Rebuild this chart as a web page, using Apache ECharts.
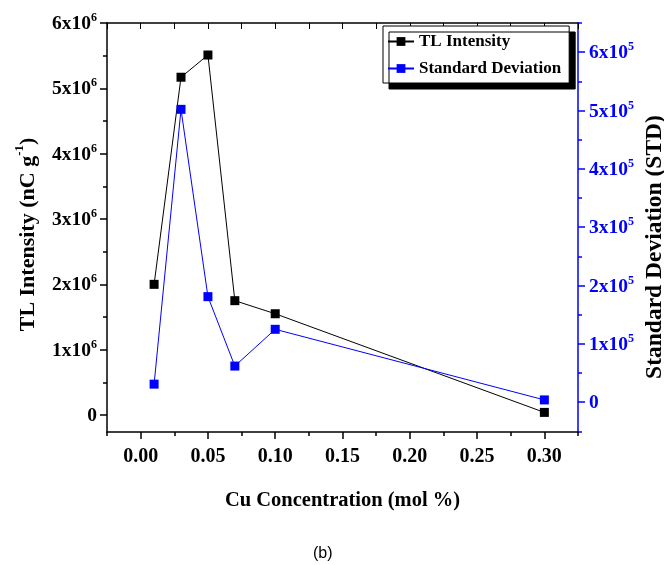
<!DOCTYPE html>
<html>
<head>
<meta charset="utf-8">
<script src="https://cdn.jsdelivr.net/npm/echarts@6/dist/echarts.min.js"></script>
<style>
  html, body { margin: 0; padding: 0; background: #fff; }
  #chart { width: 664px; height: 565px; }
</style>
</head>
<body>
<div id="chart"></div>
<script>
// Cu concentration (mol %)
const concentration = [0.01, 0.03, 0.05, 0.07, 0.10, 0.30]
// TL intensity, left axis
const tlIntensity = [2.0e6, 5.17e6, 5.51e6, 1.75e6, 1.55e6, 0.04e6]
// standard deviation, right axis
const stdDeviation = [0.31e5, 5.02e5, 1.81e5, 0.62e5, 1.25e5, 0.04e5]

// tick positions
const xTicks = [0, 0.05, 0.10, 0.15, 0.20, 0.25, 0.30]
const xMinorTicks = [-0.025, 0.025, 0.075, 0.125, 0.175, 0.225, 0.275, 0.325]
const leftTicks = [0, 1e6, 2e6, 3e6, 4e6, 5e6, 6e6]
const leftMinorTicks = [0.5e6, 1.5e6, 2.5e6, 3.5e6, 4.5e6, 5.5e6]
const rightTicks = [0, 1e5, 2e5, 3e5, 4e5, 5e5, 6e5]
const rightMinorTicks = [-0.5e5, 0.5e5, 1.5e5, 2.5e5, 3.5e5, 4.5e5, 5.5e5, 6.5e5]

const xMin = -0.025, xMax = 0.325
const leftMin = -260000, leftMax = 6000000
const rightMin = -51000, rightMax = 650000

const serif = 'Liberation Serif'
const blue = '#0000ff'

function sciLabel(v, exp) {
  if (Math.abs(v) < 1e-9) return '{b|0}'
  const m = Math.round(v / Math.pow(10, exp))
  return '{b|' + m + 'x10}{s|' + exp + '}'
}
function richFor(color) {
  return {
    b: { fontFamily: serif, fontWeight: 'bold', fontSize: 19.5, color: color, lineHeight: 22, verticalAlign: 'bottom' },
    s: { fontFamily: serif, fontWeight: 'bold', fontSize: 12, color: color, lineHeight: 22, verticalAlign: 'top', padding: [0, 0, 10, 0] }
  }
}

const chart = echarts.init(document.getElementById('chart'))

const option = {
  backgroundColor: '#fff',
  animation: false,
  grid: { left: 107, right: 86, top: 23, bottom: 133, containLabel: false, outerBoundsMode: 'none' },
  legend: {
    orient: 'vertical',
    left: 383,
    top: 26,
    padding: [7, 8, 6, 4],
    itemGap: 10,
    itemWidth: 26,
    itemHeight: 11,
    backgroundColor: '#fff',
    borderColor: '#000',
    borderWidth: 1,
    borderRadius: 0,
    shadowColor: '#000',
    shadowBlur: 0,
    shadowOffsetX: 6,
    shadowOffsetY: 6,
    textStyle: { fontFamily: serif, fontWeight: 'bold', fontSize: 17, color: '#000' },
    data: ['TL Intensity', 'Standard Deviation']
  },
  xAxis: [
    {
      type: 'value',
      position: 'bottom',
      min: xMin,
      max: xMax,
      name: 'Cu Concentration (mol %)',
      nameLocation: 'middle',
      nameGap: 58,
      nameTextStyle: { fontFamily: serif, fontWeight: 'bold', fontSize: 20.5, color: '#000' },
      axisLine: { show: true, onZero: false, lineStyle: { color: '#000', width: 1.5 } },
      axisTick: { show: true, inside: false, length: 7, customValues: xTicks, lineStyle: { color: '#000', width: 1.5 } },
      axisLabel: {
        customValues: xTicks,
        margin: 15,
        fontFamily: serif, fontWeight: 'bold', fontSize: 20, color: '#000',
        formatter: v => v.toFixed(2)
      },
      splitLine: { show: false }
    },
    {
      // minor ticks, bottom
      type: 'value', position: 'bottom', min: xMin, max: xMax,
      axisLine: { show: false, onZero: false },
      axisTick: { show: true, length: 4, customValues: xMinorTicks, lineStyle: { color: '#000', width: 1.5 } },
      axisLabel: { show: false, customValues: xMinorTicks },
      splitLine: { show: false }
    },
    {
      // top border with inward ticks
      type: 'value', position: 'top', min: xMin, max: xMax,
      axisLine: { show: true, onZero: false, lineStyle: { color: '#000', width: 1.5 } },
      axisTick: { show: true, inside: true, length: 6, customValues: xTicks.concat(xMinorTicks), lineStyle: { color: '#000', width: 1 } },
      axisLabel: { show: false, customValues: xTicks },
      splitLine: { show: false }
    }
  ],
  yAxis: [
    {
      type: 'value',
      position: 'left',
      min: leftMin,
      max: leftMax,
      name: '{b|TL Intensity (nC g}{s|-1}{b|)}',
      nameLocation: 'middle',
      nameRotate: 90,
      nameGap: 68,
      nameTextStyle: {
        padding: [0, 14, 0, 0],
        rich: {
          b: { fontFamily: serif, fontWeight: 'bold', fontSize: 22, color: '#000', lineHeight: 26, verticalAlign: 'bottom' },
          s: { fontFamily: serif, fontWeight: 'bold', fontSize: 13, color: '#000', lineHeight: 26, verticalAlign: 'top', padding: [0, 0, 12, 0] }
        }
      },
      axisLine: { show: true, onZero: false, lineStyle: { color: '#000', width: 1.5 } },
      axisTick: { show: true, length: 7, customValues: leftTicks, lineStyle: { color: '#000', width: 1.5 } },
      axisLabel: {
        customValues: leftTicks,
        margin: 10,
        formatter: v => sciLabel(v, 6),
        rich: richFor('#000')
      },
      splitLine: { show: false }
    },
    {
      type: 'value',
      position: 'right',
      min: rightMin,
      max: rightMax,
      axisLine: { show: true, onZero: false, lineStyle: { color: blue, width: 1.5 } },
      axisTick: { show: true, length: 7, customValues: rightTicks, lineStyle: { color: blue, width: 1.5 } },
      axisLabel: {
        customValues: rightTicks,
        margin: 11,
        formatter: v => sciLabel(v, 5),
        rich: richFor(blue)
      },
      splitLine: { show: false }
    },
    {
      // minor ticks, left
      type: 'value', position: 'left', min: leftMin, max: leftMax,
      axisLine: { show: false, onZero: false },
      axisTick: { show: true, length: 4, customValues: leftMinorTicks, lineStyle: { color: '#000', width: 1.5 } },
      axisLabel: { show: false, customValues: leftMinorTicks },
      splitLine: { show: false }
    },
    {
      // minor ticks, right
      type: 'value', position: 'right', min: rightMin, max: rightMax,
      axisLine: { show: false, onZero: false },
      axisTick: { show: true, length: 4, customValues: rightMinorTicks, lineStyle: { color: blue, width: 1.5 } },
      axisLabel: { show: false, customValues: rightMinorTicks },
      splitLine: { show: false }
    }
  ],
  series: [
    {
      name: 'TL Intensity',
      type: 'line',
      xAxisIndex: 0,
      yAxisIndex: 0,
      data: concentration.map((x, i) => [x, tlIntensity[i]]),
      symbol: 'rect',
      symbolSize: 9,
      color: '#000',
      lineStyle: { color: '#000', width: 1 },
      itemStyle: { color: '#000' }
    },
    {
      name: 'Standard Deviation',
      type: 'line',
      xAxisIndex: 0,
      yAxisIndex: 1,
      data: concentration.map((x, i) => [x, stdDeviation[i]]),
      symbol: 'rect',
      symbolSize: 9,
      color: blue,
      lineStyle: { color: blue, width: 1 },
      itemStyle: { color: blue }
    }
  ],
  graphic: [
    {
      // right axis title
      type: 'text',
      x: 655,
      y: 247,
      rotation: Math.PI / 2,
      style: {
        text: 'Standard Deviation (STD)',
        font: 'bold 23.5px "Liberation Serif"',
        fill: '#000',
        align: 'center',
        verticalAlign: 'middle'
      }
    },
    {
      type: 'text',
      left: 313,
      top: 546,
      style: { text: '(b)', font: '16px "Liberation Sans"', fill: '#000' }
    }
  ]
}

chart.setOption(option)
</script>
</body>
</html>
